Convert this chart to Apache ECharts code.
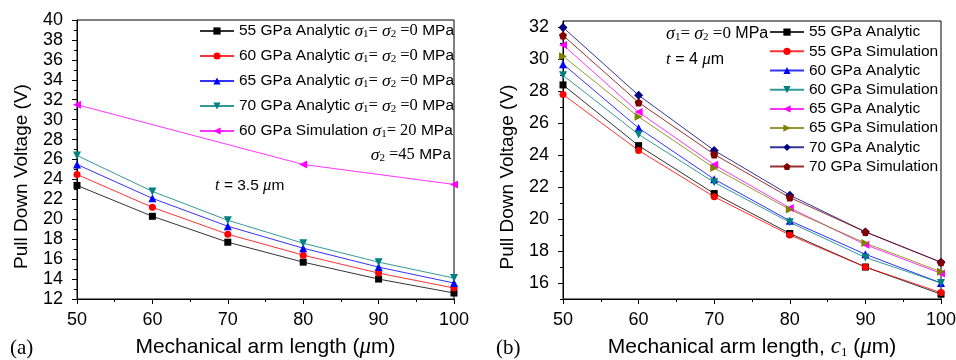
<!DOCTYPE html>
<html>
<head>
<meta charset="utf-8">
<title>Pull down voltage</title>
<script src="https://cdn.jsdelivr.net/npm/echarts@6/dist/echarts.min.js"></script>
<style>
  html, body { margin: 0; padding: 0; background: #fff; }
  #chart { width: 956px; height: 360px; }
</style>
</head>
<body>
<div id="chart"></div>
<script>
// arm length (um), x axis of both panels
var armLength = [50, 60, 70, 80, 90, 100]

// panel (a), t = 3.5 um
var a55Analytic = [23.4, 20.3, 17.7, 15.7, 14.0, 12.6]
var a60Analytic = [24.5, 21.2, 18.5, 16.4, 14.6, 13.1]
var a65Analytic = [25.5, 22.1, 19.3, 17.1, 15.2, 13.6]
var a70Analytic = [26.4, 22.8, 19.9, 17.6, 15.7, 14.1]
var a60SimLength = [50, 80, 100]
var a60Simulation = [31.5, 25.5, 23.5]

// panel (b), t = 4 um
var b55Analytic = [28.4, 24.6, 21.6, 19.1, 17.0, 15.3]
var b55Simulation = [27.8, 24.3, 21.4, 19.0, 17.0, 15.4]
var b60Analytic = [29.7, 25.7, 22.5, 19.9, 17.8, 16.0]
var b60Simulation = [29.0, 25.3, 22.3, 19.8, 17.6, 16.0]
var b65Analytic = [30.9, 26.7, 23.4, 20.7, 18.4, 16.6]
var b65Simulation = [30.2, 26.4, 23.2, 20.6, 18.5, 16.7]
var b70Analytic = [32.0, 27.75, 24.3, 21.5, 19.2, 17.3]
var b70Simulation = [31.5, 27.3, 24.05, 21.35, 19.2, 17.3]

// tick values of panel (b) y axis
var bMajorTicks = [16, 18, 20, 22, 24, 26, 28, 30, 32]
var bMinorTicks = [15, 17, 19, 21, 23, 25, 27, 29, 31]

var SANS = 'Liberation Sans'
var SERIF = 'Liberation Serif'
var pentagon = 'path://M0,-10 L9.5,-3.1 L5.9,8.1 L-5.9,8.1 L-9.5,-3.1 Z'

var chart = echarts.init(document.getElementById('chart'))

function pairs(xs, ys){
  return xs.map(function(x, i){ return [x, ys[i]] })
}

function line(name, grid, xs, ys, color, symbol, rotate, size){
  return {
    name: name,
    type: 'line',
    xAxisIndex: grid,
    yAxisIndex: grid == 0 ? 0 : 1,
    data: pairs(xs, ys),
    symbol: symbol,
    symbolRotate: rotate || 0,
    symbolSize: size || 7,
    showAllSymbol: true,
    lineStyle: { color: color, width: 1, opacity: 0.8 },
    itemStyle: { color: color },
    emphasis: { disabled: true }
  }
}

// rich text styles (sigma, subscripts, serif bits)
function richSet(size){
  return {
    n: { fontFamily: SANS, fontSize: size, lineHeight: 18 },
    sg: { fontFamily: SERIF, fontStyle: 'italic', fontSize: size + 2, lineHeight: 18 },
    sub: { fontFamily: SERIF, fontSize: 11, lineHeight: 8, verticalAlign: 'bottom' },
    tm: { fontFamily: SERIF, fontSize: size + 1, lineHeight: 18 },
    it: { fontFamily: SERIF, fontStyle: 'italic', fontSize: size + 1, lineHeight: 18 }
  }
}

var legendLabels = {
  'a55': '{n|55 GPa Analytic }{sg|σ}{sub|1}{tm|= }{sg|σ}{sub|2}{tm| =0}{n| MPa}',
  'a60': '{n|60 GPa Analytic }{sg|σ}{sub|1}{tm|= }{sg|σ}{sub|2}{tm| =0}{n| MPa}',
  'a65': '{n|65 GPa Analytic }{sg|σ}{sub|1}{tm|= }{sg|σ}{sub|2}{tm| =0}{n| MPa}',
  'a70': '{n|70 GPa Analytic }{sg|σ}{sub|1}{tm|= }{sg|σ}{sub|2}{tm| =0}{n| MPa}',
  'a60s': '{n|60 GPa Simulation }{sg|σ}{sub|1}{tm|= 20}{n| MPa}'
}

function axisCommon(){
  return {
    axisLine: { onZero: false, lineStyle: { color: '#000', width: 1 } },
    axisTick: { length: 5, lineStyle: { color: '#000' } },
    minorTick: { show: true, splitNumber: 2, length: 3, lineStyle: { color: '#000' } },
    splitLine: { show: false },
    minorSplitLine: { show: false },
    axisLabel: { color: '#000', fontSize: 18, fontFamily: SANS, margin: 12 }
  }
}

var xa = axisCommon()
var xb = axisCommon()
var ya = axisCommon()
var yb = axisCommon()
var ybMinor = axisCommon()

var xNameRich = {
  n: { fontFamily: SANS, fontSize: 21, lineHeight: 24, color: '#000' },
  it: { fontFamily: SERIF, fontStyle: 'italic', fontSize: 23, lineHeight: 24, color: '#000' },
  sub: { fontFamily: SERIF, fontSize: 13, lineHeight: 10, verticalAlign: 'bottom', color: '#000' }
}

Object.assign(xa, {
  gridIndex: 0, type: 'value', min: 50, max: 100, interval: 10,
  name: '{n|Mechanical arm length (}{it|μ}{n|m)}', nameLocation: 'middle', nameGap: 36,
  nameTextStyle: { color: '#000', fontSize: 21, fontFamily: SANS, rich: xNameRich }
})
Object.assign(xb, {
  gridIndex: 1, type: 'value', min: 50, max: 100, interval: 10,
  name: '{n|Mechanical arm length, }{it|c}{sub|1}{n| (}{it|μ}{n|m)}', nameLocation: 'middle', nameGap: 36,
  nameTextStyle: { color: '#000', fontSize: 21, fontFamily: SANS, rich: xNameRich }
})
Object.assign(ya, {
  gridIndex: 0, type: 'value', min: 12, max: 40, interval: 2,
  name: 'Pull Down Voltage (V)', nameLocation: 'middle', nameGap: 46,
  nameTextStyle: { color: '#000', fontSize: 19, fontFamily: SANS, padding: [0, 34, 0, 0] }
})
ya.axisLabel.margin = 14
Object.assign(yb, {
  gridIndex: 1, type: 'value', min: 15, max: 32.4, position: 'left',
  name: 'Pull Down Voltage (V)', nameLocation: 'middle', nameGap: 46,
  nameTextStyle: { color: '#000', fontSize: 19, fontFamily: SANS, padding: [0, 34, 0, 0] }
})
yb.minorTick = { show: false }
yb.axisTick.customValues = bMajorTicks
yb.axisLabel.customValues = bMajorTicks
yb.axisLabel.margin = 14
Object.assign(ybMinor, {
  gridIndex: 1, type: 'value', min: 15, max: 32.4, position: 'left', offset: 0
})
ybMinor.minorTick = { show: false }
ybMinor.axisLine = { show: false }
ybMinor.axisLabel = { show: false, customValues: bMinorTicks }
ybMinor.axisTick = { length: 3, customValues: bMinorTicks, lineStyle: { color: '#000' } }

var option = {
  animation: false,
  backgroundColor: '#fff',
  grid: [
    { left: 77, right: 502, top: 20, bottom: 61, outerBoundsMode: 'none', containLabel: false,
      show: true, borderColor: '#000', borderWidth: 1, backgroundColor: 'transparent' },
    { left: 563, right: 15, top: 21, bottom: 61, outerBoundsMode: 'none', containLabel: false,
      show: true, borderColor: '#000', borderWidth: 1, backgroundColor: 'transparent' }
  ],
  xAxis: [xa, xb],
  yAxis: [ya, yb, ybMinor],
  legend: [
    {
      orient: 'vertical', left: 199, top: 22, itemGap: 7, padding: 0,
      itemWidth: 34, itemHeight: 9,
      data: ['a55', 'a60', 'a65', 'a70', 'a60s'],
      formatter: function(name){ return legendLabels[name] },
      textStyle: { color: '#000', fontSize: 15.5, fontFamily: SANS, lineHeight: 18, rich: richSet(15.5) },
      selectedMode: false
    },
    {
      orient: 'vertical', left: 769, top: 23, itemGap: 1, padding: 0,
      itemWidth: 34, itemHeight: 9,
      data: ['55 GPa Analytic', '55 GPa Simulation', '60 GPa Analytic', '60 GPa Simulation',
             '65 GPa Analytic', '65 GPa Simulation', '70 GPa Analytic', '70 GPa Simulation'],
      textStyle: { color: '#000', fontSize: 15.5, fontFamily: SANS, lineHeight: 18.2 },
      selectedMode: false
    }
  ],
  series: [
    line('a55', 0, armLength, a55Analytic, '#000000', 'rect'),
    line('a60', 0, armLength, a60Analytic, '#ff0000', 'circle'),
    line('a65', 0, armLength, a65Analytic, '#0000ff', 'triangle', 0, 8),
    line('a70', 0, armLength, a70Analytic, '#008080', 'triangle', 180, 8),
    line('a60s', 0, a60SimLength, a60Simulation, '#ff00ff', 'triangle', 90, 8),

    line('55 GPa Analytic', 1, armLength, b55Analytic, '#000000', 'rect'),
    line('55 GPa Simulation', 1, armLength, b55Simulation, '#ff0000', 'circle'),
    line('60 GPa Analytic', 1, armLength, b60Analytic, '#0000ff', 'triangle', 0, 8),
    line('60 GPa Simulation', 1, armLength, b60Simulation, '#008080', 'triangle', 180, 8),
    line('65 GPa Analytic', 1, armLength, b65Analytic, '#ff00ff', 'triangle', 90, 8),
    line('65 GPa Simulation', 1, armLength, b65Simulation, '#808000', 'triangle', -90, 8),
    line('70 GPa Analytic', 1, armLength, b70Analytic, '#000080', 'diamond', 0, 9),
    line('70 GPa Simulation', 1, armLength, b70Simulation, '#800000', pentagon, 0, 8)
  ],
  graphic: [
    { type: 'text', x: 451, y: 155, style: { text: '{sg|σ}{sub|2}{tm| =45}{n| MPa}', align: 'right', verticalAlign: 'middle',
      fill: '#000', rich: richSet(15.5) } },
    { type: 'text', x: 215, y: 186, style: { text: '{it|t}{n| = 3.5 }{it|μ}{n|m}', align: 'left', verticalAlign: 'middle',
      fill: '#000', rich: richSet(15.5) } },
    { type: 'text', x: 666, y: 34, style: { text: '{sg|σ}{sub|1}{tm|= }{sg|σ}{sub|2}{tm| =0}{n| MPa}', align: 'left', verticalAlign: 'middle',
      fill: '#000', rich: richSet(16) } },
    { type: 'text', x: 666, y: 60, style: { text: '{it|t}{n| = 4 }{it|μ}{n|m}', align: 'left', verticalAlign: 'middle',
      fill: '#000', rich: richSet(16) } },
    { type: 'text', x: 10, y: 348, style: { text: '(a)', verticalAlign: 'middle', fontSize: 21, fontFamily: SERIF, fill: '#000' } },
    { type: 'text', x: 496, y: 348, style: { text: '(b)', verticalAlign: 'middle', fontSize: 21, fontFamily: SERIF, fill: '#000' } }
  ]
}

chart.setOption(option)
</script>
</body>
</html>
